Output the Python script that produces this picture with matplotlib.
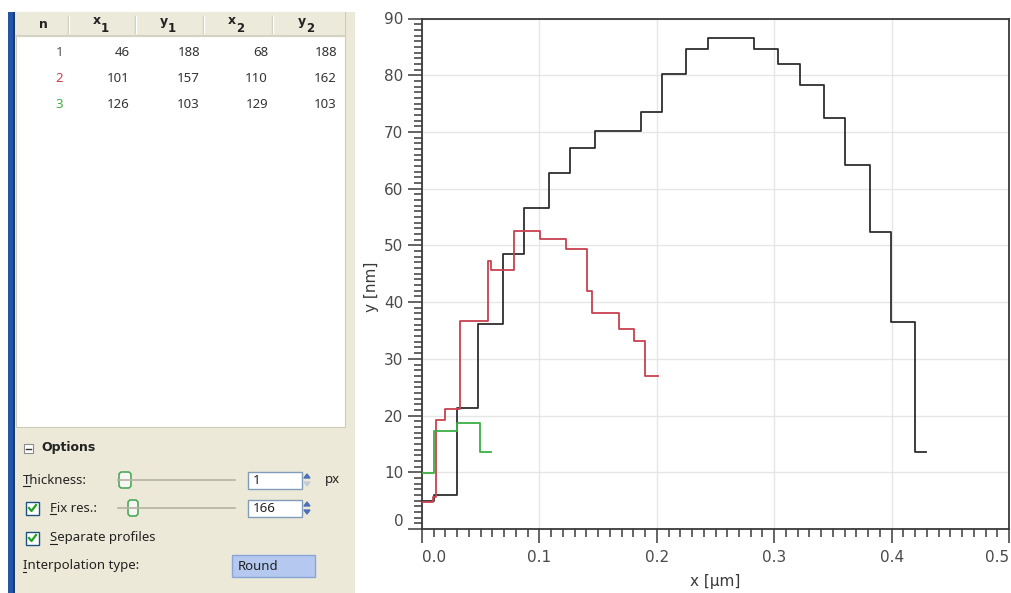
import numpy as np
import matplotlib.pyplot as plt
from matplotlib.patches import Rectangle, FancyBboxPatch, Polygon

# profile endpoints shown in the list (pixels)
prof_n = [1, 2, 3]
prof_x1 = [46, 101, 126]
prof_y1 = [188, 157, 103]
prof_x2 = [68, 110, 129]
prof_y2 = [188, 162, 103]

# extracted profiles: step edges (um) and plateau heights (nm)
black_x = [0.000, 0.0099, 0.030, 0.048, 0.069, 0.087, 0.108, 0.1264, 0.147, 0.1866,
           0.2043, 0.225, 0.2432, 0.2826, 0.303, 0.3217, 0.342, 0.3603, 0.3815, 0.3996,
           0.420, 0.4296]
black_y = [5.0, 6.0, 21.4, 36.1, 48.5, 56.6, 62.8, 67.2, 70.2, 73.6,
           80.3, 84.7, 86.6, 84.7, 82.0, 78.2, 72.5, 64.1, 52.3, 36.5, 13.5]

red_x = [0.000, 0.0095, 0.012, 0.0194, 0.0327, 0.0565, 0.059, 0.0786, 0.1005, 0.1225,
         0.1402, 0.1450, 0.1678, 0.1805, 0.190, 0.201]
red_y = [4.8, 5.6, 19.2, 21.1, 36.6, 47.2, 45.7, 52.5, 51.2, 49.4,
         42.0, 38.1, 35.2, 33.1, 27.0]

green_x = [0.000, 0.0105, 0.0297, 0.0493, 0.0588]
green_y = [9.9, 17.35, 18.75, 13.5]

prof_colors = ['#2e2e2e', '#c8414f', '#3cb043']

W, H = 1011, 593
fig = plt.figure(figsize=(W / 100, H / 100), dpi=100)
fig.patch.set_facecolor('white')

# ---- left tool panel, drawn in pixel coordinates ----
pan = fig.add_axes([0, 0, 1, 1])
pan.set_xlim(0, W)
pan.set_ylim(H, 0)
pan.axis('off')

uifont = 'Noto Sans'
boldfont = 'DejaVu Sans'
beige = '#ECE9D8'
pan.add_patch(Rectangle((15, 12), 340, H - 12, color=beige, lw=0))
pan.add_patch(Rectangle((8, 12), 7, H - 12, color='#2356a8', lw=0))
pan.add_patch(Rectangle((13, 12), 2, H - 12, color='#1b3c6e', lw=0))
pan.add_patch(Rectangle((16, 12), 329, 415, facecolor='white', edgecolor='#cfcbbb', lw=0.8))

# list header
pan.add_patch(Rectangle((16, 12), 329, 24, facecolor='#EBEADB', edgecolor='none'))
pan.plot([16, 345], [36, 36], color='#d6d2c2', lw=1.5)
for sx in [68, 135, 203, 272]:
    pan.plot([sx, sx], [16, 33], color='#cbc7b6', lw=1)
    pan.plot([sx + 1, sx + 1], [16, 33], color='white', lw=1)
hdr = dict(fontfamily=boldfont, fontweight='bold', color='#222222', va='center', ha='center')
pan.text(43, 24, 'n', fontsize=9, **hdr)
for hx, name, sub in [(97, 'x', '1'), (164, 'y', '1'), (232, 'x', '2'), (302, 'y', '2')]:
    pan.text(hx, 21, name, fontsize=9, **hdr)
    pan.text(hx + 8, 28, sub, fontsize=8.5, **hdr)

col_right = [63, 130, 200, 268, 337]
row_y = [52, 78.5, 105]
for i in range(len(prof_n)):
    vals = [prof_n[i], prof_x1[i], prof_y1[i], prof_x2[i], prof_y2[i]]
    for j, v in enumerate(vals):
        c = prof_colors[i] if j == 0 else '#333333'
        if j == 0 and i == 0:
            c = '#555555'
        pan.text(col_right[j], row_y[i], str(v), fontsize=9.5, fontfamily=uifont,
                 color=c, ha='right', va='center')

# options block
txt = dict(fontfamily=uifont, fontsize=9.5, color='#222222', va='center')
pan.add_patch(Rectangle((24, 444), 9, 9, facecolor='white', edgecolor='#8c8c8c', lw=0.8))
pan.plot([26, 31], [448.5, 448.5], color='#333333', lw=1)
pan.text(41, 448, 'Options', fontsize=9, fontfamily=boldfont, fontweight='bold',
         color='#222222', va='center')

# labels with their mnemonic underlines
pan.text(23, 480, 'Thickness:', **txt)
pan.plot([23, 30], [485.5, 485.5], color='#222222', lw=0.8)
pan.text(50, 508, 'Fix res.:', **txt)
pan.plot([50, 56], [513.5, 513.5], color='#222222', lw=0.8)
pan.text(50, 538, 'Separate profiles', **txt)
pan.plot([50, 57], [543.5, 543.5], color='#222222', lw=0.8)
pan.text(23, 566, 'Interpolation type:', **txt)
pan.plot([23, 26], [571.5, 571.5], color='#222222', lw=0.8)
pan.text(325, 480, 'px', **txt)


def slider(y, hx, hw):
    pan.plot([118, 235], [y, y], color='#b5b2a3', lw=1.2)
    pan.add_patch(FancyBboxPatch((hx, y - 8), hw, 16, boxstyle='round,pad=0,rounding_size=3',
                                 facecolor='#f7f7f3', edgecolor='#4fa85c', lw=1.2))


def spin(y, value, down_color):
    pan.add_patch(Rectangle((248, y - 8.5), 54, 17, facecolor='white', edgecolor='#7f9db9', lw=1))
    pan.text(253, y + 0.5, value, **txt)
    pan.add_patch(Polygon([[304, y - 2], [310, y - 2], [307, y - 6]], color='#4d6fb8'))
    pan.add_patch(Polygon([[304, y + 2], [310, y + 2], [307, y + 6]], color=down_color))


def checkbox(y):
    pan.add_patch(Rectangle((26, y - 6.5), 13, 13, facecolor='white', edgecolor='#1c5180', lw=1))
    pan.plot([29, 31.5, 36], [y, y + 3, y - 3], color='#21a121', lw=1.6)


slider(480, 119, 12)
spin(480, '1', '#c4cad8')
checkbox(508)
slider(508, 128, 10)
spin(508, '166', '#4d6fb8')
checkbox(538)

pan.add_patch(Rectangle((232, 555), 83, 22, facecolor='#b4c8f0', edgecolor='#8aa6d8', lw=1))
pan.text(238, 566, 'Round', **txt)

# ---- profile graph ----
ax = fig.add_axes([422 / W, (H - 529) / H, (1009 - 422) / W, (529 - 18.5) / H])
for xs, ys, col in [(black_x, black_y, prof_colors[0]),
                    (red_x, red_y, prof_colors[1]),
                    (green_x, green_y, prof_colors[2])]:
    ax.step(xs, list(ys) + [ys[-1]], where='post', color=col, lw=1.3, zorder=3)

ax.set_xlim(0, 0.5)
ax.set_ylim(0, 90)
ax.set_xticks(np.arange(0, 0.51, 0.1))
ax.set_xticks(np.arange(0, 0.501, 0.01), minor=True)
ax.set_yticks(np.arange(0, 91, 10))
ax.set_yticks(np.arange(0, 91, 1), minor=True)
ax.set_xticklabels(['0.0', '0.1', '0.2', '0.3', '0.4', '0.5'])
ax.grid(which='major', color='#e6e6e6', lw=1, zorder=0)
ax.tick_params(which='major', direction='out', length=10, width=1.1, color='#3a3a3a',
               labelsize=11, labelcolor='#4a4a4a')
ax.tick_params(which='minor', direction='out', length=5.8, width=1.1, color='#3a3a3a')
ax.tick_params(axis='y', pad=3.5)
ax.tick_params(axis='x', pad=5)
for s in ax.spines.values():
    s.set_color('#3a3a3a')
    s.set_linewidth(1.3)

# first/last x labels stay inside the frame, "0" sits above the corner
xl = ax.get_xticklabels()
xl[0].set_ha('left')
xl[-1].set_ha('right')
ax.get_yticklabels()[0].set_va('bottom')

ax.set_xlabel('x [µm]', fontsize=11, color='#3a3a3a')
ax.set_ylabel('y [nm]', fontsize=11, color='#3a3a3a')
ax.xaxis.set_label_coords(0.5, -0.103)
ax.xaxis.label.set_va('center')
ax.yaxis.set_label_coords(-0.0857, 0.475)
ax.yaxis.label.set_va('center')

fig.savefig('out.png', dpi=100, facecolor=fig.get_facecolor())
